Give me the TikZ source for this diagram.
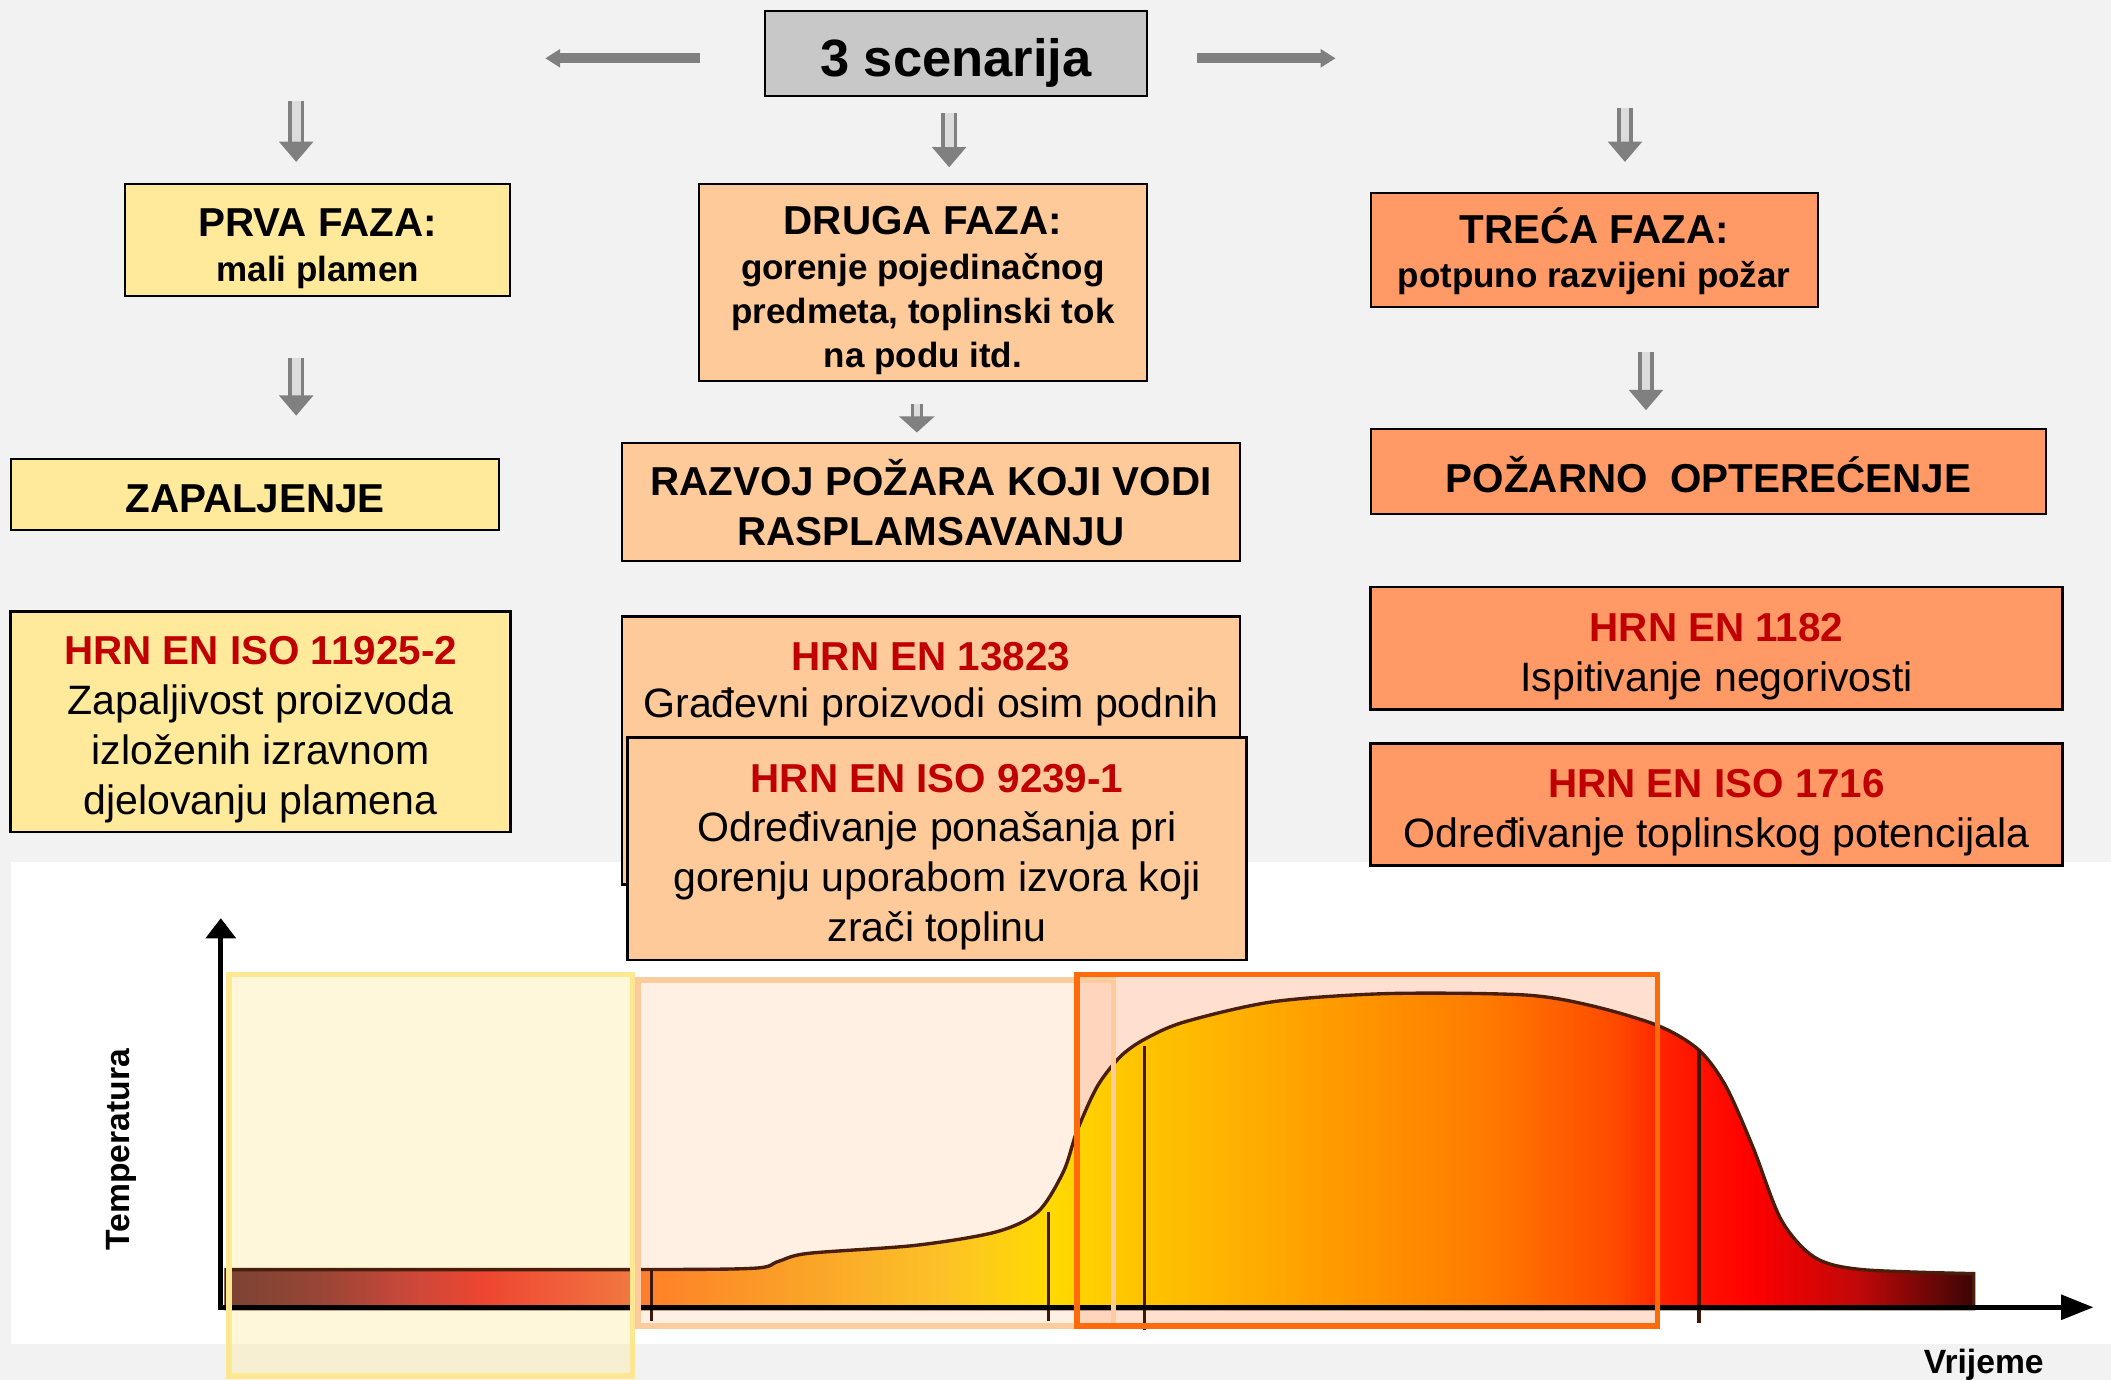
\documentclass[tikz,border=0pt]{standalone}
\usepackage{fontspec}
\setmainfont{Liberation Sans}
\usetikzlibrary{arrows.meta}

\definecolor{bggray}{HTML}{F2F2F2}
\definecolor{scengray}{HTML}{C8C8C8}
\definecolor{yellowfaza}{HTML}{FFEA9C}
\definecolor{peachfaza}{HTML}{FFCA99}
\definecolor{orangefaza}{HTML}{FF9966}
\definecolor{yellowedge}{HTML}{FFE690}
\definecolor{peachedge}{HTML}{FCCB9E}
\definecolor{orangeedge}{HTML}{FF6A0A}
\definecolor{hrnred}{HTML}{C00000}
\definecolor{arrowgray}{HTML}{808080}
\definecolor{arrowfill}{HTML}{DCDCDC}
\definecolor{firebrown}{HTML}{4A1E0C}
\definecolor{fireA}{HTML}{7A4433}
\definecolor{fireB}{HTML}{9A4536}
\definecolor{fireC}{HTML}{C8483A}
\definecolor{fireD}{HTML}{EE4630}
\definecolor{fireE}{HTML}{F0603A}
\definecolor{fireF}{HTML}{F07840}
\definecolor{fireG}{HTML}{FF8028}
\definecolor{fireH}{HTML}{FAA428}
\definecolor{fireI}{HTML}{FCC228}
\definecolor{fireJ}{HTML}{FFDA00}
\definecolor{fireK}{HTML}{FFC800}
\definecolor{fireL}{HTML}{FFB600}
\definecolor{fireM}{HTML}{FF9800}
\definecolor{fireN}{HTML}{FF7C00}
\definecolor{fireO}{HTML}{FF4A00}
\definecolor{fireP}{HTML}{FF1E00}
\definecolor{fireQ}{HTML}{FF0000}
\definecolor{fireR}{HTML}{C00808}
\definecolor{fireS}{HTML}{3C0606}

\pgfdeclarehorizontalshading{fireshade}{100bp}{color(0bp)=(fireA); color(25bp)=(fireA);
  color(27.77bp)=(fireB); color(30.08bp)=(fireC); color(32.4bp)=(fireD); color(34.71bp)=(fireE);
  color(36.63bp)=(fireF); color(37.02bp)=(fireG); color(41.64bp)=(fireH); color(45.49bp)=(fireI);
  color(48.57bp)=(fireJ); color(50.5bp)=(fireK); color(53.2bp)=(fireL); color(57.05bp)=(fireM);
  color(60.9bp)=(fireN); color(64.75bp)=(fireO); color(66.29bp)=(fireP); color(68.61bp)=(fireQ);
  color(71.69bp)=(fireR); color(75bp)=(fireS); color(100bp)=(fireS)}

% struts: top of the first line, bottom of the last line
\newcommand{\lt}{\rule{0pt}{1.1em}}
\newcommand{\lb}{\rule[-0.21em]{0pt}{0.21em}}
\newcommand{\hrn}[1]{{\color{hrnred}\bfseries\fontsize{30}{37}\selectfont\lt #1}}

\tikzset{
  box/.style={draw=black, line width=1.5pt, inner sep=0pt, align=center},
  scenario/.style={box, fill=scengray, font=\bfseries\fontsize{39}{40}\selectfont},
  faza/.style={box, font=\bfseries\fontsize{26}{33}\selectfont},
  result/.style={box, font=\bfseries\fontsize{30}{37}\selectfont},
  norma/.style={box, line width=2pt, font=\fontsize{30.5}{37}\selectfont},
  axislabel/.style={font=\bfseries\fontsize{25}{28}\selectfont, inner sep=0pt},
  hollowarrow/.style={draw=arrowgray, double=arrowfill, double distance=6.5pt, line width=2.5pt,
    -{Triangle[length=15pt,width=25pt]}},
  smallarrow/.style={hollowarrow, double distance=4pt, -{Triangle[length=12pt,width=26pt]}},
  blockarrow/.style={draw=arrowgray, line width=7.5pt, -{Triangle[length=11pt,width=13pt]}},
  axis/.style={draw=black, line width=3.5pt},
  marker/.style={draw=firebrown!80!black, line width=2.5pt}
}

\begin{document}
\begin{tikzpicture}[x=1pt, y=-1pt]
\useasboundingbox (0,0) rectangle (1568,1025);
\fill[bggray] (0,0) rectangle (1568,1025);
\fill[white] (8,640) rectangle (1568,998);

% scenarios and phases
\node[scenario, minimum width=284, minimum height=63] (scen) at (710,39.5) {\lt 3 scenarija\lb};

\node[faza, fill=yellowfaza, minimum width=286, minimum height=83] (faza1) at (236,178.5)
  {{\fontsize{30}{33}\selectfont\lt PRVA FAZA:}\\mali plamen\lb};
\node[faza, fill=peachfaza, minimum width=333, minimum height=146] (faza2) at (685.5,210)
  {{\fontsize{30}{33}\selectfont\lt DRUGA FAZA:}\\gorenje pojedinačnog\\predmeta, toplinski tok\\na podu itd.\lb};
\node[faza, fill=orangefaza, minimum width=332, minimum height=85] (faza3) at (1184,185.5)
  {{\fontsize{30}{33}\selectfont\rule{0pt}{0.95em}TREĆA FAZA:}\\potpuno razvijeni požar\lb};

\node[result, fill=yellowfaza, minimum width=363, minimum height=53] (zap) at (189.5,367.5) {\lt ZAPALJENJE\lb};
\node[result, fill=peachfaza, minimum width=459, minimum height=88]
  (razvoj) at (691.5,373) {\lt RAZVOJ POŽARA KOJI VODI\\RASPLAMSAVANJU\lb};
\node[result, fill=orangefaza, minimum width=502, minimum height=63] (opter) at (1269,350.5)
  {\rule{0pt}{1.25em}POŽARNO\ \ OPTEREĆENJE\lb};

% standards
\node[norma, fill=yellowfaza, minimum width=371, minimum height=164] (iso11925) at (193.5,536)
  {\hrn{HRN EN ISO 11925-2}\\Zapaljivost proizvoda\\izloženih izravnom\\djelovanju plamena\lb};
\node[norma, fill=peachfaza, minimum width=459, minimum height=199,
  label={[anchor=north, align=center, inner sep=0pt, yshift=-8pt, font=\fontsize{30.5}{35}\selectfont]north:\hrn{HRN EN 13823}\\Građevni proizvodi osim podnih}]
  (en13823) at (691.5,557.5) {};
\node[norma, fill=peachfaza, minimum width=460, minimum height=165] (iso9239) at (696,630.5)
  {\hrn{HRN EN ISO 9239-1}\\Određivanje ponašanja pri\\gorenju uporabom izvora koji\\zrači toplinu\lb};
\node[norma, fill=orangefaza, minimum width=514, minimum height=91] (en1182) at (1275,481.5)
  {\hrn{HRN EN 1182}\\Ispitivanje negorivosti\lb};
\node[norma, fill=orangefaza, minimum width=514, minimum height=91] (iso1716) at (1275,597.5)
  {\hrn{HRN EN ISO 1716}\\Određivanje toplinskog potencijala\lb};

% arrows
\coordinate (lft) at (405,43.3);
\coordinate (rgt) at (992,43.3);
\coordinate (t1) at (220,75);
\coordinate (t2) at (705,84);
\coordinate (t3) at (1207,80);
\coordinate (c1) at (220,0);
\coordinate (c2) at (681,0);
\coordinate (c3) at (1222.6,0);
\draw[blockarrow, shorten <=47pt] (lft -| scen.west) -- (lft);
\draw[blockarrow, shorten <=36pt] (rgt -| scen.east) -- (rgt);
\draw[hollowarrow, shorten >=16pt] (t1) -- (t1 |- faza1.north);
\draw[hollowarrow, shorten >=12pt] (t2) -- (t2 |- faza2.north);
\draw[hollowarrow, shorten >=22pt] (t3) -- (t3 |- faza3.north);
\draw[hollowarrow, shorten <=45pt, shorten >=31.5pt] (c1 |- faza1.south) -- (c1 |- zap.north);
\draw[smallarrow, shorten <=16.5pt, shorten >=7pt] (c2 |- faza2.south) -- (c2 |- razvoj.north);
\draw[hollowarrow, shorten <=32.6pt, shorten >=13.6pt] (c3 |- faza3.south) -- (c3 |- opter.north);

% temperature curve
\fill[yellowfaza, fill opacity=0.37] (170,724) rectangle (470,1022);
\fill[peachfaza, fill opacity=0.27] (474,728) rectangle (827,985);
\fill[orangefaza, fill opacity=0.3] (800,724) rectangle (1231,985);
\shadedraw[shading=fireshade, draw=firebrown, line width=2.5pt] (168,972) -- plot[smooth, tension=0.5] coordinates {
  (168,943) (470,943) (560,942) (578,937) (600,931) (680,925) (740,915) (771,900) (790,870)
  (800,840) (815,807) (832,785) (850,772) (880,759) (946,744) (1031,738) (1132,739) (1182,747)
  (1232,762) (1262,780) (1282,807) (1302,852) (1323,906) (1348,934) (1383,943) (1466,946)}
  -- (1466,972) -- cycle;
\foreach \x/\ya/\yb in {484/943/981, 779/900/981, 850/777/988, 1262/780/983}
  \draw[marker] (\x,\ya) -- (\x,\yb);

\coordinate (O) at (164,971);
\coordinate (xstart) at (162,971);
\coordinate (ytop) at (164,682);
\coordinate (xend) at (1555,971);
\draw[axis, -{Triangle[length=15pt,width=22pt]}] (O) -- (ytop);
\draw[axis, -{Triangle[length=24pt,width=18pt]}] (xstart) -- (xend);

\draw[yellowedge, line width=4pt] (170,724) rectangle (470,1022);
\draw[peachedge, line width=4pt] (474,728) rectangle (827,985);
\draw[orangeedge, line width=4pt] (800,724) rectangle (1231,985);

\node[axislabel, rotate=90] (tlab) at (90,854) {Temperatura};
\node[axislabel, anchor=base] (vlab) at (1473.5,1020) {Vrijeme};
\end{tikzpicture}
\end{document}
